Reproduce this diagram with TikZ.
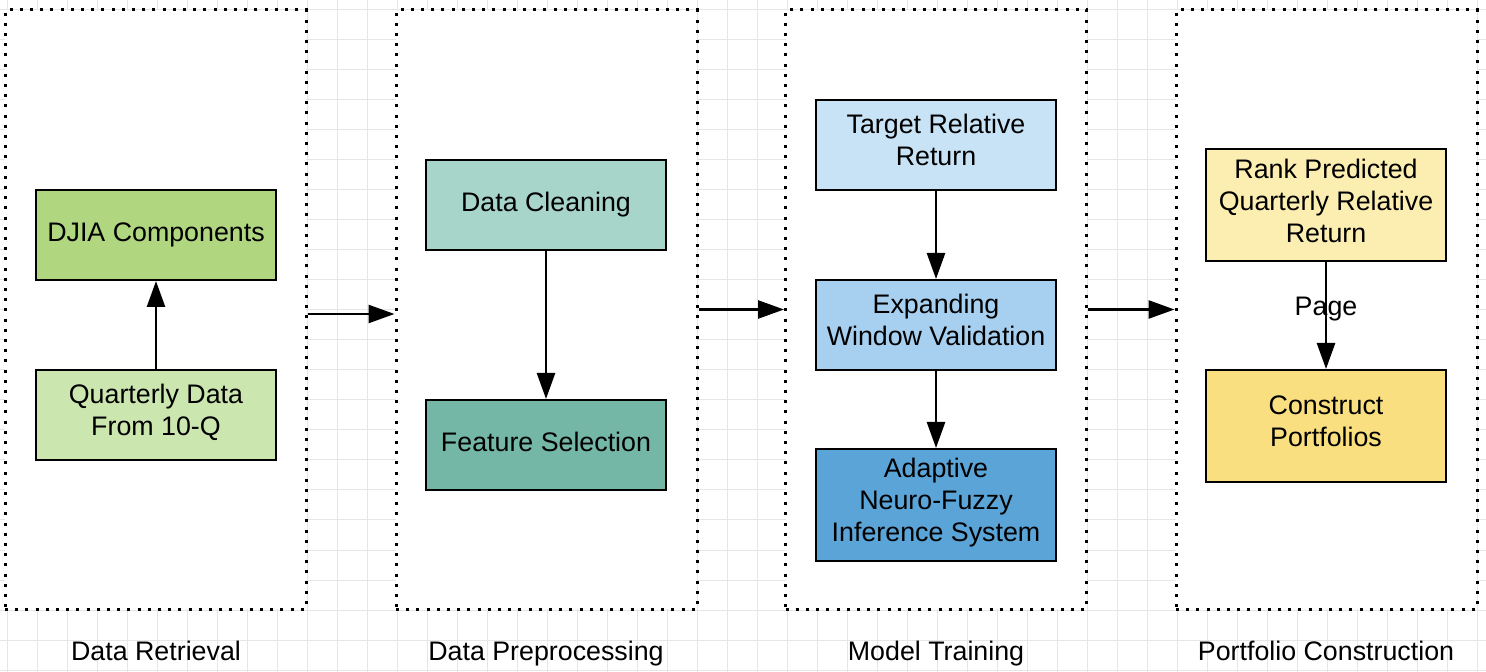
\documentclass[tikz,border=0pt]{standalone}
\usepackage{fontspec}
\setmainfont{Liberation Sans}
\usetikzlibrary{arrows.meta}

\definecolor{djiagreen}{HTML}{B0D67F}
\definecolor{quartgreen}{HTML}{CCE6B0}
\definecolor{cleanteal}{HTML}{A7D5CA}
\definecolor{featteal}{HTML}{74B7A7}
\definecolor{targetblue}{HTML}{C8E2F6}
\definecolor{expandblue}{HTML}{A6CFF0}
\definecolor{anfisblue}{HTML}{5BA4D7}
\definecolor{rankyellow}{HTML}{FCEEB1}
\definecolor{constyellow}{HTML}{F9DF80}
\definecolor{gridgray}{HTML}{E6E6E6}

\tikzset{
  every node/.style={font=\fontsize{13.4}{16}\selectfont},
  stage/.style={draw, dash pattern=on 1.5pt off 3.6pt, line width=1.5pt,
    fill=white, minimum width=150.5pt, minimum height=299.5pt, inner sep=0pt},
  stagelabel/.style={anchor=base},
  stepbox/.style={draw, line width=1pt, align=center, inner sep=2pt,
    minimum width=120pt, minimum height=45pt,
    execute at begin node=\strut, execute at end node=\strut},
  tallbox/.style={stepbox, minimum height=56pt},
  flow/.style={-{Triangle[length=13pt,width=9pt]}, line width=1.3pt},
  gridline/.style={draw=gridgray, line width=0.5pt}
}

\begin{document}
\begin{tikzpicture}[x=0.5pt, y=-0.5pt]

  \useasboundingbox (0,0) rectangle (1486,672);

  % background grid
  \foreach \gx in {7,37,...,1477}
    \draw[gridline] (\gx,0) -- (\gx,672);
  \foreach \gy in {10,40,...,670}
    \draw[gridline] (0,\gy) -- (1486,\gy);

  % stages
  \node[stage] (retrieval)  at (155.5,309.5) {};
  \node[stage] (preprocess) at (546.5,309.5) {};
  \node[stage] (training)   at (936,309.5)   {};
  \node[stage] (portfolio)  at (1326.5,309.5) {};

  \node[stagelabel] (retrievallbl)  at (156,660.5)  {Data Retrieval};
  \node[stagelabel] (preprocesslbl) at (546,660.5)  {Data Preprocessing};
  \node[stagelabel] (traininglbl)   at (936,660.5)  {Model Training};
  \node[stagelabel] (portfoliolbl)  at (1326,660.5) {Portfolio Construction};

  % boxes
  \node[stepbox, fill=djiagreen]   (djia)   at (156,235) {DJIA Components};
  \node[stepbox, fill=quartgreen]  (qdata)  at (156,415) {Quarterly Data\\From 10-Q};
  \node[stepbox, fill=cleanteal]   (clean)  at (546,205) {Data Cleaning};
  \node[stepbox, fill=featteal]    (feat)   at (546,445) {Feature Selection};
  \node[stepbox, fill=targetblue]  (target) at (936,145) {Target Relative\\Return};
  \node[stepbox, fill=expandblue]  (expand) at (936,325) {Expanding\\Window Validation};
  \node[tallbox, fill=anfisblue]   (anfis)  at (936,505) {Adaptive\\Neuro-Fuzzy\\Inference System};
  \node[tallbox, fill=rankyellow]  (rank)   at (1326,205.5) {Rank Predicted\\Quarterly Relative\\Return};
  \node[tallbox, fill=constyellow] (build)  at (1326,426) {Construct\\Portfolios};

  % connectors
  \draw[flow] (qdata) -- (djia);
  \draw[flow] (clean) -- (feat);
  \draw[flow] (target) -- (expand);
  \draw[flow] (expand) -- (anfis);
  \draw[flow] (rank) -- node[pos=0.44] {Page} (build);

  \draw[flow] ([yshift=-2.25pt]retrieval.east) -- ([yshift=-2.25pt]preprocess.west);
  \draw[flow] (preprocess.east) -- (training.west);
  \draw[flow] (training.east) -- (portfolio.west);

\end{tikzpicture}
\end{document}
